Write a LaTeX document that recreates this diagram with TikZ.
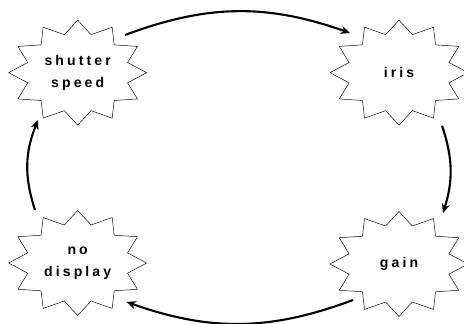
\documentclass[tikz,border=0pt]{standalone}
\usepackage{fontspec}
\usepackage{tikz}
\usetikzlibrary{arrows.meta, calc}
\newfontfamily\burstfont[LetterSpace=22]{Liberation Sans}
% 12-point burst round a named node
\newcommand{\burstaround}[1]{%
    \draw[thin, shift={(#1.center)}] (0:2.07cm and 1.575cm)
        \foreach \a in {15,45,...,345} {-- (\a:1.55cm and 1.18cm) -- (\a+15:2.07cm and 1.575cm)} -- cycle;}

\begin{document}
\begin{tikzpicture}[
    mode/.style={align=center, inner sep=0pt, font=\burstfont\bfseries\fontsize{12}{19}\selectfont},
    flow/.style={-{Stealth[length=8pt, width=7pt]}, line width=1.8pt}
]
    \useasboundingbox (0, 0) rectangle (13.92, 9.69);

    % Modes
    \node[mode] (shutter) at (2.33, 7.51) {shutter\\speed};
    \node[mode] (iris) at (11.97, 7.51) {iris};
    \node[mode] (gain) at (11.97, 1.77) {gain};
    \node[mode] (nodisp) at (2.33, 1.8) {no\\display};
    \burstaround{shutter}
    \burstaround{iris}
    \burstaround{gain}
    \burstaround{nodisp}

    % Cycle
    \draw[flow] ($(shutter)+(1.42, 1.13)$) to[bend left=20] ($(iris)+(-1.47, 1.19)$);
    \draw[flow] ($(iris)+(1.29, -1.59)$) to[bend left=18] ($(gain)+(1.32, 1.53)$);
    \draw[flow] ($(gain)+(-1.38, -1.08)$) to[bend left=20] ($(nodisp)+(1.47, -1.17)$);
    \draw[flow] ($(nodisp)+(-1.28, 1.59)$) to[bend left=20] ($(shutter)+(-1.19, -1.42)$);
\end{tikzpicture}
\end{document}
